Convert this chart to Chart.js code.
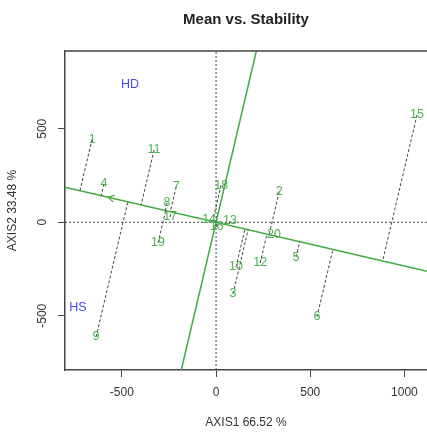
<!DOCTYPE html>
<html>
<head>
<meta charset="utf-8">
<script src="https://cdn.jsdelivr.net/npm/chart.js@4"></script>
<style>
  html, body { margin: 0; padding: 0; background: #fff; }
</style>
</head>
<body>
<canvas id="biplot" width="427" height="434"></canvas>
<script>
// Genotype scores
const genotypes = ["1", "2", "3", "4", "5", "6", "7", "8", "9", "10",
  "11", "12", "13", "14", "15", "16", "17", "18", "19", "20"];
const axis1 = [-658, 335, 90, -595, 425, 536, -212, -260, -637, 106,
  -329, 234, 74, -37, 1067, 3, -244, 27, -308, 308];
const axis2 = [445, 162, -383, 205, -186, -506, 189, 103, -613, -239,
  387, -218, 7, 12, 574, -25, 28, 199, -111, -68];

const xTicks = [-500, 0, 500, 1000];
const yTicks = [-500, 0, 500];
const xRange = [-802, 1120];
const yRange = [-790, 916];

// average environment axis slope, and where the arrowhead sits on it
const aecSlope = -0.2336;
const arrowAt = -574;

const regionLabels = ["HD", "HS"];
const regionX = [-457, -733];
const regionY = [734, -458];

const green = "#3fae3f";
const labelGreen = "#4cb04c";
const axisGrey = "#444";

// foot of each genotype on the AEC abscissa
const feet = axis1.map((x, i) => {
  const t = (x + aecSlope * axis2[i]) / (1 + aecSlope * aecSlope);
  return { x: t, y: aecSlope * t };
});

const projSets = genotypes.map((g, i) => ({
  type: "line",
  data: [{ x: axis1[i], y: axis2[i] }, feet[i]],
  borderColor: "#444",
  borderWidth: 1,
  borderDash: [3, 2],
  pointRadius: 0,
}));

const ordSlope = -1 / aecSlope;

// Labels, arrow, top border, rotated y ticks, title
const decorations = {
  id: "decorations",
  afterDatasetsDraw(chart) {
    const { ctx, chartArea, scales } = chart;
    const sx = scales.x, sy = scales.y;
    ctx.save();

    // genotype numbers
    ctx.font = "12.5px 'Liberation Sans', Arial, sans-serif";
    ctx.fillStyle = labelGreen;
    ctx.textAlign = "center";
    ctx.textBaseline = "middle";
    genotypes.forEach((g, i) => {
      ctx.fillText(g, sx.getPixelForValue(axis1[i]), sy.getPixelForValue(axis2[i]));
    });

    // region labels
    ctx.fillStyle = "#4a4ae8";
    regionLabels.forEach((r, i) => {
      ctx.fillText(r, sx.getPixelForValue(regionX[i]), sy.getPixelForValue(regionY[i]));
    });

    // arrowhead on the AEC abscissa
    const ax = sx.getPixelForValue(arrowAt), ay = sy.getPixelForValue(aecSlope * arrowAt);
    const bx = sx.getPixelForValue(arrowAt + 100), by = sy.getPixelForValue(aecSlope * (arrowAt + 100));
    const ang = Math.atan2(by - ay, bx - ax);
    ctx.strokeStyle = green;
    ctx.lineWidth = 1.2;
    ctx.beginPath();
    ctx.moveTo(ax + 7 * Math.cos(ang + 0.5), ay + 7 * Math.sin(ang + 0.5));
    ctx.lineTo(ax, ay);
    ctx.lineTo(ax + 7 * Math.cos(ang - 0.5), ay + 7 * Math.sin(ang - 0.5));
    ctx.stroke();

    // top of the box
    ctx.strokeStyle = axisGrey;
    ctx.lineWidth = 1.5;
    ctx.beginPath();
    ctx.moveTo(chartArea.left, chartArea.top);
    ctx.lineTo(chartArea.right, chartArea.top);
    ctx.stroke();

    // y tick labels, rotated as in base R
    ctx.fillStyle = "#333";
    ctx.font = "12px 'Liberation Sans', Arial, sans-serif";
    yTicks.forEach((v) => {
      ctx.save();
      ctx.translate(43, sy.getPixelForValue(v));
      ctx.rotate(-Math.PI / 2);
      ctx.fillText(String(v), 0, 0);
      ctx.restore();
    });

    // title
    ctx.fillStyle = "#222";
    ctx.font = "bold 15px 'Liberation Sans', Arial, sans-serif";
    ctx.fillText("Mean vs. Stability", (chartArea.left + chartArea.right) / 2, 20);
    ctx.restore();
  },
};

new Chart(document.getElementById("biplot"), {
  type: "scatter",
  data: {
    datasets: [
      {
        type: "line",
        data: [{ x: xRange[0], y: 0 }, { x: xRange[1], y: 0 }],
        borderColor: axisGrey,
        borderWidth: 1,
        borderDash: [2, 2],
        pointRadius: 0,
      },
      {
        type: "line",
        data: [{ x: 0, y: yRange[0] }, { x: 0, y: yRange[1] }],
        borderColor: axisGrey,
        borderWidth: 1,
        borderDash: [2, 2],
        pointRadius: 0,
      },
      ...projSets,
      {
        type: "line",
        data: [{ x: xRange[0], y: aecSlope * xRange[0] }, { x: xRange[1], y: aecSlope * xRange[1] }],
        borderColor: green,
        borderWidth: 1.5,
        pointRadius: 0,
      },
      {
        type: "line",
        data: [{ x: yRange[0] / ordSlope, y: yRange[0] }, { x: yRange[1] / ordSlope, y: yRange[1] }],
        borderColor: green,
        borderWidth: 1.5,
        pointRadius: 0,
      },
      {
        data: axis1.map((x, i) => ({ x: x, y: axis2[i] })),
        pointRadius: 0,
      },
    ],
  },
  options: {
    responsive: false,
    animation: false,
    layout: { padding: { top: 51, right: 0, left: 0, bottom: 0 } },
    plugins: {
      legend: { display: false },
      tooltip: { enabled: false },
    },
    scales: {
      x: {
        type: "linear",
        min: xRange[0],
        max: xRange[1],
        afterBuildTicks: (scale) => { scale.ticks = xTicks.map((v) => ({ value: v })); },
        afterFit: (scale) => { scale.height = 64; },
        grid: { drawOnChartArea: false, tickLength: 7, color: axisGrey, lineWidth: 1 },
        border: { display: true, color: axisGrey, width: 1.5 },
        ticks: {
          color: "#333",
          padding: 8,
          font: { family: "'Liberation Sans', Arial", size: 12 },
          callback: (v) => String(v),
        },
        title: {
          display: true,
          text: "AXIS1 66.52 %",
          color: "#333",
          padding: { top: 0, bottom: 4 },
          font: { family: "'Liberation Sans', Arial", size: 12 },
        },
      },
      y: {
        type: "linear",
        min: yRange[0],
        max: yRange[1],
        afterBuildTicks: (scale) => { scale.ticks = yTicks.map((v) => ({ value: v })); },
        afterFit: (scale) => { scale.width = 65; },
        grid: { drawOnChartArea: false, tickLength: 7, color: axisGrey, lineWidth: 1 },
        border: { display: true, color: axisGrey, width: 1.5 },
        ticks: { display: false },
        title: {
          display: true,
          text: "AXIS2 33.48 %",
          color: "#333",
          padding: { top: 5, bottom: 0 },
          font: { family: "'Liberation Sans', Arial", size: 12 },
        },
      },
    },
  },
  plugins: [decorations],
});
</script>
</body>
</html>
